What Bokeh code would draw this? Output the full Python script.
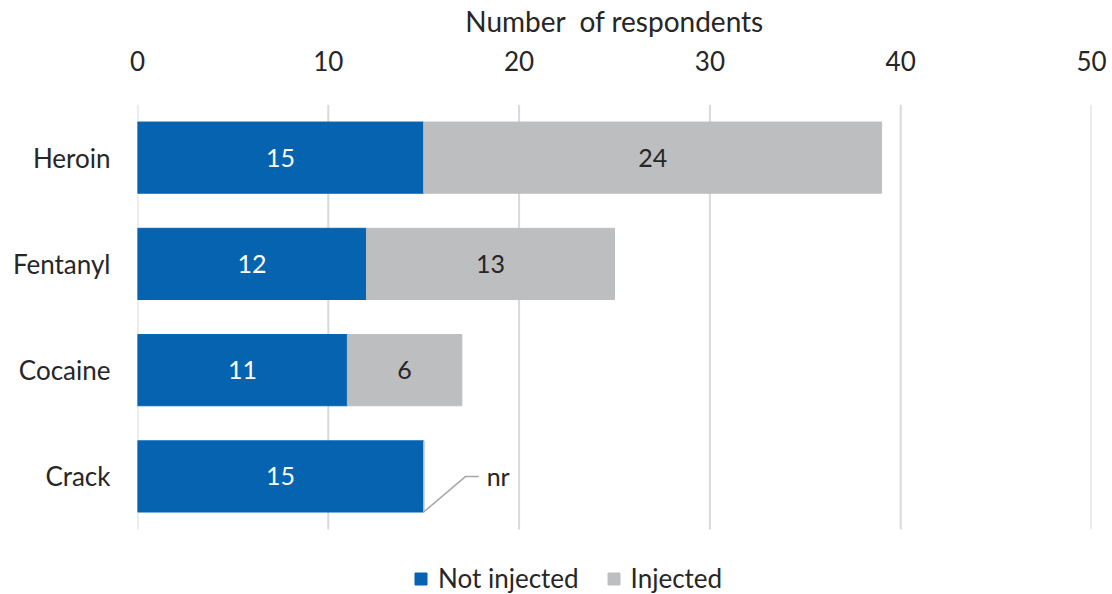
from bokeh.plotting import figure
from bokeh.models import ColumnDataSource, Legend, LegendItem, FixedTicker
from bokeh.core.properties import value
from bokeh.embed import file_html
from bokeh.resources import INLINE

drugs = ["Heroin", "Fentanyl", "Cocaine", "Crack"]
not_injected = [15, 12, 11, 15]
injected = [24, 13, 6, 0]
injected_labels = ["24", "13", "6", "nr"]
x_ticks = [0, 10, 20, 30, 40, 50]
series_names = ["Not injected", "Injected"]
axis_title = "Number\u00a0\u00a0of respondents"

BLUE = "#0563b0"
GREY = "#bdbec0"
TEXT = "#262626"
FONT = "Lato"
FS = "26px"
BAR_H = 0.67
W, H = 1108, 594
TOP = 102
SLOT_PX = 106.7  # pixel pitch of one category slot

n = len(drugs)
ypos = [n - 1 - i for i in range(n)]  # Heroin on top
y_hi = n - 0.5
y_lo = y_hi - (H - TOP) / SLOT_PX  # extra room below the bars for the legend

p = figure(
    width=W, height=H,
    y_range=(y_lo, y_hi),
    x_range=(0, 50),
    x_axis_location="above",
    output_backend="svg", toolbar_location=None,
    min_border_left=137, min_border_right=17, min_border_top=TOP, min_border_bottom=0,
)
p.outline_line_color = None
p.xgrid.grid_line_color = None
p.ygrid.grid_line_color = None

# vertical gridlines limited to the bar area
p.segment(x0=x_ticks, y0=[-0.5] * len(x_ticks), x1=x_ticks, y1=[y_hi] * len(x_ticks),
          line_color="#d9d9d9", line_width=2)

src = ColumnDataSource(dict(
    y=ypos,
    ni=not_injected,
    tot=[a + b for a, b in zip(not_injected, injected)],
    ni_mid=[a / 2 for a in not_injected],
    ni_lab=[str(a) for a in not_injected],
))

r1 = p.hbar(y="y", left=0, right="ni", height=BAR_H, color=BLUE, source=src)
r2 = p.hbar(y="y", left="ni", right="tot", height=BAR_H, color=GREY, source=src)

p.text(x="ni_mid", y="y", text="ni_lab", source=src, text_color="white",
       text_font=value(FONT), text_font_size="25px", text_align="center", text_baseline="middle")

rep = ColumnDataSource(dict(
    y=[yy for yy, v in zip(ypos, injected) if v > 0],
    x=[a + b / 2 for a, b in zip(not_injected, injected) if b > 0],
    lab=[l for l, v in zip(injected_labels, injected) if v > 0],
))
p.text(x="x", y="y", text="lab", source=rep, text_color=TEXT,
       text_font=value(FONT), text_font_size="25px", text_align="center", text_baseline="middle")

# "nr" callout for Crack
for yy, a, v, l in zip(ypos, not_injected, injected, injected_labels):
    if v == 0:
        p.line(x=[a, a + 2.2, a + 2.88], y=[yy - BAR_H / 2, yy, yy],
               line_color="#a6a6a6", line_width=1.5)
        p.text(x=[a + 3.3], y=[yy], text=[l], text_color=TEXT,
               text_font=value(FONT), text_font_size="25px", text_align="left", text_baseline="middle")

# axes
xa = p.xaxis[0]
xa.ticker = FixedTicker(ticks=x_ticks)
xa.axis_label = axis_title
xa.axis_label_text_font = FONT
xa.axis_label_text_font_style = "normal"
xa.axis_label_text_font_size = "28px"
xa.axis_label_text_color = TEXT
xa.axis_label_standoff = 10
xa.major_label_text_font = FONT
xa.major_label_text_font_size = FS
xa.major_label_text_color = TEXT
xa.major_label_standoff = 28
xa.axis_line_color = None
xa.major_tick_line_color = None
xa.minor_tick_line_color = None

ya = p.yaxis[0]
ya.ticker = FixedTicker(ticks=ypos)
ya.major_label_overrides = {yy: d for yy, d in zip(ypos, drugs)}
ya.major_label_text_font = FONT
ya.major_label_text_font_size = FS
ya.major_label_text_color = TEXT
ya.major_label_standoff = 21
ya.axis_line_color = None
ya.major_tick_line_color = None
ya.minor_tick_line_color = None

legend = Legend(items=[LegendItem(label=series_names[0], renderers=[r1]),
                       LegendItem(label=series_names[1], renderers=[r2])],
                orientation="horizontal", location=(276, 0),
                label_text_font=FONT, label_text_font_size=FS, label_text_color=TEXT,
                label_height=26, glyph_width=15, glyph_height=15, spacing=27,
                border_line_color=None, background_fill_alpha=0,
                margin=0, padding=2, label_standoff=10)
p.add_layout(legend, "center")

open("out.html", "w").write(file_html(p, INLINE))
